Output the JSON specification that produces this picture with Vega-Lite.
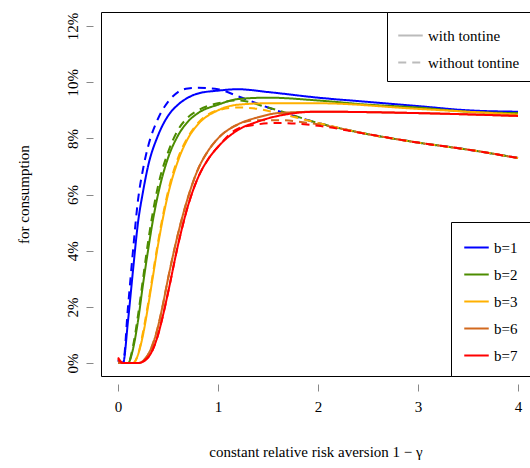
{
"$schema":"https://vega.github.io/schema/vega-lite/v6.json",
"width":429,"height":364,"autosize":"none",
"padding":{"left":101,"top":12,"right":0,"bottom":92},
"config":{"font":"Liberation Serif","view":{"stroke":"black","strokeWidth":1},"legend":{"labelFont":"Liberation Serif"},"axis":{"labelFont":"Liberation Serif","titleFont":"Liberation Serif"}},
"datasets":{"raw":[
{"b":"b=1","s":"with tontine","p":[[0,0.1],[0.05,0],[0.1,1.5],[0.15,3.3],[0.2,5],[0.25,6.1],[0.3,7],[0.4,8.1],[0.5,8.8],[0.6,9.2],[0.7,9.45],[0.8,9.6],[1,9.7],[1.2,9.75],[1.5,9.65],[2,9.45],[2.5,9.3],[3,9.15],[3.5,9.0],[4,8.95]]},
{"b":"b=1","s":"without tontine","p":[[0,0.1],[0.05,0],[0.1,2],[0.15,4],[0.2,5.8],[0.25,6.9],[0.3,7.7],[0.4,8.7],[0.5,9.3],[0.6,9.65],[0.7,9.78],[0.8,9.8],[1,9.75],[1.2,9.5],[1.5,9.1],[2,8.55],[2.5,8.15],[3,7.85],[3.5,7.6],[4,7.3]]},
{"b":"b=2","s":"with tontine","p":[[0,0],[0.1,0],[0.15,0.5],[0.2,1.5],[0.25,2.8],[0.3,4],[0.35,5.1],[0.4,6],[0.5,7.3],[0.6,8.1],[0.7,8.6],[0.8,8.9],[1,9.2],[1.2,9.4],[1.5,9.45],[2,9.35],[2.5,9.2],[3,9.1],[3.5,8.95],[4,8.9]]},
{"b":"b=2","s":"without tontine","p":[[0,0],[0.1,0],[0.15,0.6],[0.2,1.7],[0.25,3],[0.3,4.3],[0.35,5.4],[0.4,6.3],[0.5,7.5],[0.6,8.3],[0.7,8.75],[0.8,9.0],[1,9.25],[1.2,9.35],[1.5,9.1],[2,8.55],[2.5,8.15],[3,7.85],[3.5,7.6],[4,7.3]]},
{"b":"b=3","s":"with tontine","p":[[0,0],[0.15,0],[0.2,0.3],[0.25,1],[0.3,2],[0.35,3.1],[0.4,4.2],[0.5,6],[0.6,7.2],[0.7,8],[0.8,8.5],[1,9.0],[1.2,9.2],[1.5,9.25],[2,9.25],[3,9.05],[4,8.85]]},
{"b":"b=3","s":"without tontine","p":[[0,0],[0.15,0],[0.2,0.3],[0.25,1.1],[0.3,2.1],[0.35,3.2],[0.4,4.3],[0.5,6.1],[0.6,7.3],[0.7,8.05],[0.8,8.55],[1,9.0],[1.2,9.1],[1.4,9.05],[1.6,8.9],[2,8.55],[2.5,8.15],[3,7.85],[3.5,7.6],[4,7.3]]},
{"b":"b=6","s":"with tontine","p":[[0,0],[0.2,0],[0.3,0.3],[0.35,0.7],[0.4,1.3],[0.45,2.1],[0.5,3],[0.6,4.6],[0.7,5.9],[0.8,6.9],[0.9,7.55],[1,8.0],[1.2,8.5],[1.4,8.75],[1.6,8.9],[2,8.95],[3,8.9],[4,8.8]]},
{"b":"b=6","s":"without tontine","p":[[0,0.1],[0.05,0],[0.2,0],[0.3,0.3],[0.35,0.7],[0.4,1.3],[0.45,2.1],[0.5,3],[0.6,4.6],[0.7,5.9],[0.8,6.9],[0.9,7.55],[1,8.0],[1.2,8.5],[1.4,8.65],[1.6,8.65],[2,8.5],[2.5,8.15],[3,7.85],[3.5,7.6],[4,7.3]]},
{"b":"b=7","s":"with tontine","p":[[0,0.15],[0.05,0],[0.2,0],[0.3,0.2],[0.35,0.5],[0.4,1],[0.45,1.7],[0.5,2.5],[0.6,4.2],[0.7,5.6],[0.8,6.6],[0.9,7.25],[1,7.7],[1.2,8.3],[1.4,8.6],[1.6,8.8],[2,8.95],[3,8.9],[4,8.8]]},
{"b":"b=7","s":"without tontine","p":[[0,0.2],[0.05,0],[0.2,0],[0.3,0.2],[0.35,0.5],[0.4,1],[0.45,1.7],[0.5,2.5],[0.6,4.2],[0.7,5.6],[0.8,6.6],[0.9,7.25],[1,7.7],[1.2,8.35],[1.4,8.5],[1.6,8.55],[2,8.45],[2.5,8.15],[3,7.85],[3.5,7.6],[4,7.3]]}
]},
"data":{"name":"raw"},
"transform":[
{"flatten":["p"]},
{"calculate":"datum.p[0]","as":"x"},
{"calculate":"datum.p[1]/100","as":"y"}
],
"mark":{"type":"line","strokeWidth":2,"clip":true,"interpolate":"monotone"},
"encoding":{
"x":{"field":"x","type":"quantitative","scale":{"domain":[-0.17,4.12],"nice":false,"zero":false},
"axis":{"values":[0,1,2,3,4],"grid":false,"domain":false,"offset":8,"tickSize":7,"labelFontSize":15,"labelPadding":8,"title":"constant relative risk aversion 1 − γ","titleFontSize":15,"titleFontWeight":"normal","titlePadding":30}},
"y":{"field":"y","type":"quantitative","scale":{"domain":[-0.0046,0.125],"nice":false,"zero":false},
"axis":{"values":[0,0.02,0.04,0.06,0.08,0.1,0.12],"format":".0%","grid":false,"domain":false,"offset":8,"tickSize":7,"labelAngle":270,"labelAlign":"center","labelBaseline":"bottom","labelFontSize":15,"labelPadding":6,"title":"for consumption","titleFontSize":15,"titleFontWeight":"normal","titlePadding":34}},
"color":{"field":"b","type":"nominal","scale":{"domain":["b=1","b=2","b=3","b=6","b=7"],"range":["#0000ff","#4c8c00","#ffb000","#d2691e","#ff0000"]},
"legend":{"orient":"bottom-right","title":null,"offset":0,"strokeColor":"black","fillColor":"white","padding":12,"labelFont":"Liberation Serif","labelFontSize":15,"symbolType":"stroke","symbolStrokeWidth":2,"symbolSize":600,"rowPadding":5}},
"strokeDash":{"field":"s","type":"nominal","scale":{"domain":["with tontine","without tontine"],"range":[[1,0],[8,6]]},
"legend":{"orient":"top-right","title":null,"offset":0,"strokeColor":"black","fillColor":"white","padding":10,"labelFont":"Liberation Serif","labelFontSize":15,"symbolType":"stroke","symbolStrokeWidth":2,"symbolStrokeColor":"#bbbbbb","symbolSize":600,"rowPadding":5}},
"detail":{"field":"s"}
}
}
